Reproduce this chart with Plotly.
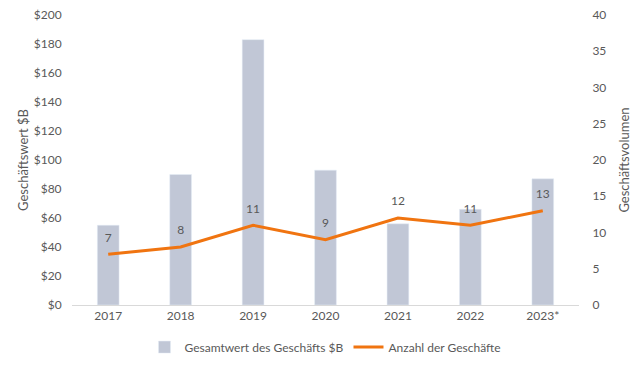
import plotly.graph_objects as go

years = ["2017", "2018", "2019", "2020", "2021", "2022", "2023*"]
deal_value = [55, 90, 183, 93, 56, 66, 87]
deal_count = [7, 8, 11, 9, 12, 11, 13]
left_ticks = [0, 20, 40, 60, 80, 100, 120, 140, 160, 180, 200]
right_ticks = [0, 5, 10, 15, 20, 25, 30, 35, 40]

font_color = "#595959"
fam = "Lato, Open Sans, sans-serif"

fig = go.Figure()
fig.add_trace(go.Bar(
    x=years, y=deal_value, name="Gesamtwert des Geschäfts $B",
    marker=dict(color="#C1C7D6"), width=0.3, yaxis="y",
))
fig.add_trace(go.Scatter(
    x=years, y=deal_count, name="Anzahl der Geschäfte",
    mode="lines+markers+text", text=[str(v) for v in deal_count],
    textposition="top center", textfont=dict(size=12, color=font_color, family=fam),
    marker=dict(size=14, color="rgba(0,0,0,0)"),
    line=dict(color="#F07410", width=3), yaxis="y2", cliponaxis=False,
))

fig.update_layout(
    width=640, height=367,
    margin=dict(l=64, r=69, t=7, b=70, autoexpand=False),
    paper_bgcolor="white", plot_bgcolor="white",
    font=dict(family=fam, size=12, color=font_color),
    xaxis=dict(showgrid=False, showline=True, linecolor="#D9D9D9", linewidth=1,
               ticks="", tickfont=dict(size=12, color=font_color)),
    yaxis=dict(range=[0, 200], tickvals=left_ticks,
               ticktext=[f"${v}" for v in left_ticks], ticklabeloverflow="allow",
               ticks="outside", ticklen=7, tickcolor="rgba(0,0,0,0)",
               showgrid=False, zeroline=False, showline=False,
               title=dict(text="Geschäftswert $B", font=dict(size=13, color=font_color), standoff=2)),
    yaxis2=dict(range=[0, 40], tickvals=right_ticks, overlaying="y", side="right",
                ticklabeloverflow="allow",
                ticks="outside", ticklen=10, tickcolor="rgba(0,0,0,0)",
                showgrid=False, zeroline=False, showline=False,
                title=dict(text="Geschäftsvolumen", font=dict(size=13, color=font_color), standoff=14)),
    legend=dict(orientation="h", x=0.5, xanchor="center", yref="container",
                y=0.076, yanchor="middle",
                font=dict(size=12, color=font_color)),
    bargap=0.7,
)

fig.write_html("out.html")
